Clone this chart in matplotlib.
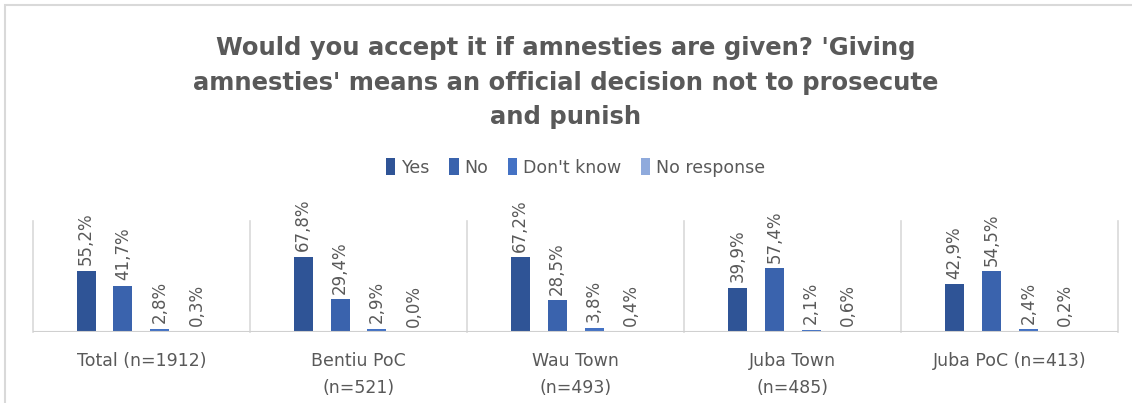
import matplotlib
matplotlib.use("Agg")
import matplotlib.pyplot as plt
from matplotlib.patches import Rectangle
import numpy as np

# survey results, % of respondents per location
groups = ["Total (n=1912)", "Bentiu PoC\n(n=521)", "Wau Town\n(n=493)",
          "Juba Town\n(n=485)", "Juba PoC (n=413)"]
answers = ["Yes", "No", "Don't know", "No response"]
yes = [55.2, 67.8, 67.2, 39.9, 42.9]
no = [41.7, 29.4, 28.5, 57.4, 54.5]
dont_know = [2.8, 2.9, 3.8, 2.1, 2.4]
no_response = [0.3, 0.0, 0.4, 0.6, 0.2]
colors = ["#2F5496", "#3A63AD", "#4472C4", "#8FAADC"]

title = ("Would you accept it if amnesties are given? 'Giving\n"
         "amnesties' means an official decision not to prosecute\n"
         "and punish")

grey = "#595959"

fig = plt.figure(figsize=(11.32, 4.03), dpi=100)
ax = fig.add_axes([0.029, 0.176, 0.959, 0.276])

x = np.arange(len(groups))
pitch = 0.17
width = 0.0875
series = [yes, no, dont_know, no_response]
for i, (vals, name, c) in enumerate(zip(series, answers, colors)):
    pos = x + (i - 1.5) * pitch
    bars = ax.bar(pos, vals, width, color=c, label=name, zorder=3)
    for b, v in zip(bars, vals):
        ax.annotate(f"{v:.1f}%".replace(".", ","),
                    (b.get_x() + b.get_width() / 2, v),
                    xytext=(0, 4), textcoords="offset points",
                    rotation=90, ha="center", va="bottom",
                    fontsize=12, color=grey)

ax.set_xlim(-0.5, len(groups) - 0.5)
ax.set_ylim(0, 100)
for s in ax.spines.values():
    s.set_visible(False)
ax.set_yticks([])
ax.set_xticks(x)
ax.set_xticklabels(groups, fontsize=12.5, color=grey, linespacing=1.7)
ax.tick_params(axis="x", length=0, pad=14)

# category separators and baseline
for b in np.arange(-0.5, len(groups), 1.0):
    ax.plot([b, b], [0, 100], color="#D9D9D9", lw=1.2, zorder=1,
            clip_on=False)
ax.axhline(0, color="#D0D0D0", lw=1.5, zorder=4)

ax.legend(loc="center", bbox_to_anchor=(0.5, 1.48), ncol=4,
          frameon=False, fontsize=12.5, labelcolor=grey,
          handlelength=0.55, handleheight=1.1, handletextpad=0.35,
          columnspacing=1.1)

fig.text(0.5, 0.795, title, ha="center", va="center", fontsize=17.5,
         fontweight="bold", color=grey, linespacing=1.55)

# chart frame
fig.patches.append(Rectangle((5 / 1132, -0.05), 1.2, 1.0 - 5 / 403 + 0.05,
                             transform=fig.transFigure, fill=False,
                             edgecolor="#D9D9D9", lw=1.5))

fig.savefig("out.png", dpi=100)
